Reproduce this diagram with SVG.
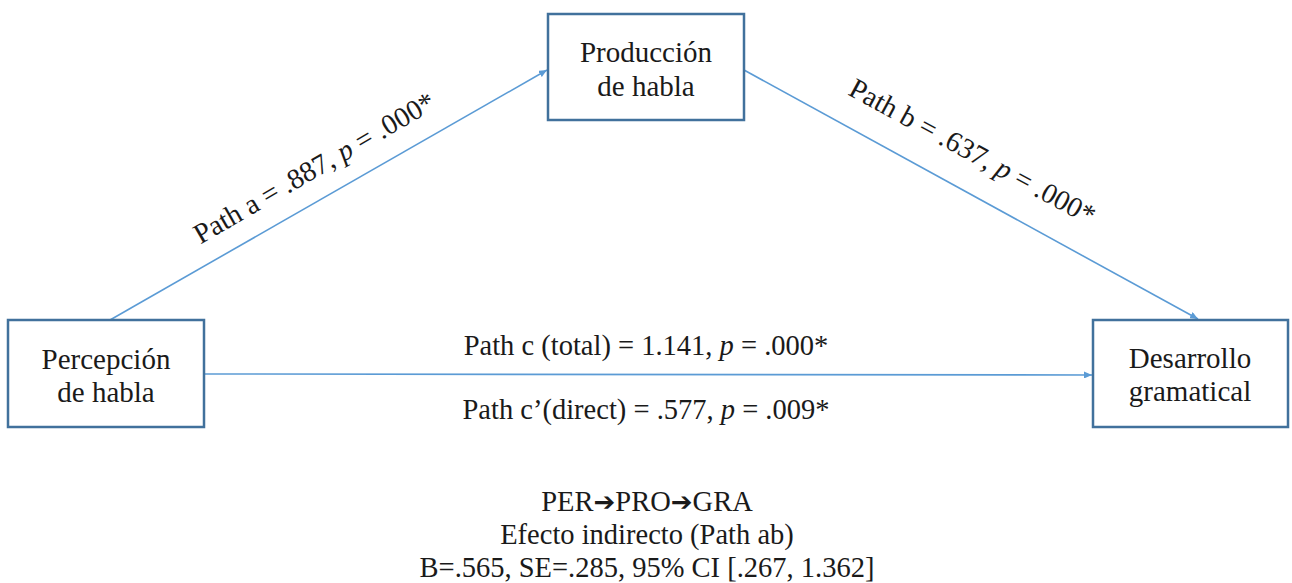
<svg xmlns="http://www.w3.org/2000/svg" width="1292" height="583" viewBox="0 0 1292 583">
<style>
.box{fill:#fff;stroke:#41719C;stroke-width:2.5}
.t{font-family:"Liberation Serif","Times New Roman","DejaVu Serif",serif;font-size:29px;fill:#1a1a1a;text-anchor:middle}
.lbl{font-family:"Liberation Serif","Times New Roman","DejaVu Serif",serif;font-size:28.5px;fill:#1a1a1a;text-anchor:middle}
.ar{font-family:"DejaVu Sans",sans-serif;font-weight:bold;font-size:26px}
.c{stroke:#5B9BD5;stroke-width:1.6;fill:none}
</style>
<defs>
<marker id="ah" viewBox="0 0 10 10" refX="10" refY="5" markerWidth="8" markerHeight="7" markerUnits="userSpaceOnUse" orient="auto" preserveAspectRatio="none">
<path d="M0,0 L10,5 L0,10 z" fill="#5B9BD5"/>
</marker>
</defs>
<rect width="1292" height="583" fill="#fff"/>
<g id="connectors">
<line class="c" x1="110" y1="320" x2="547" y2="70" marker-end="url(#ah)"/>
<line class="c" x1="744" y1="70" x2="1198" y2="319" marker-end="url(#ah)"/>
<line class="c" x1="204" y1="374" x2="1092" y2="375" marker-end="url(#ah)"/>
</g>
<g id="node-produccion">
<rect class="box" x="548" y="14" width="196" height="106"/>
<text class="t" x="646" y="62">Producción</text>
<text class="t" x="646" y="96">de habla</text>
</g>
<g id="node-percepcion">
<rect class="box" x="8" y="320" width="196" height="107"/>
<text class="t" x="106" y="369">Percepción</text>
<text class="t" x="106" y="402">de habla</text>
</g>
<g id="node-desarrollo">
<rect class="box" x="1093" y="320" width="195" height="107"/>
<text class="t" x="1190" y="368">Desarrollo</text>
<text class="t" x="1190" y="401">gramatical</text>
</g>
<g id="labels">
<text class="lbl" transform="translate(319,176) rotate(-30)">Path a = .887, <tspan font-style="italic">p</tspan> = .000*</text>
<text class="lbl" transform="translate(968,160) rotate(28.5)">Path b = .637, <tspan font-style="italic">p</tspan> = .000*</text>
<text class="lbl" x="646" y="355">Path c (total) = 1.141, <tspan font-style="italic">p</tspan> = .000*</text>
<text class="lbl" x="646" y="419">Path c’(direct) = .577, <tspan font-style="italic">p</tspan> = .009*</text>
<text class="lbl" x="647" y="511">PER<tspan class="ar">➔</tspan>PRO<tspan class="ar">➔</tspan>GRA</text>
<text class="lbl" x="647" y="544">Efecto indirecto (Path ab)</text>
<text class="lbl" x="647" y="577">B=.565, SE=.285, 95% CI [.267, 1.362]</text>
</g>
</svg>
